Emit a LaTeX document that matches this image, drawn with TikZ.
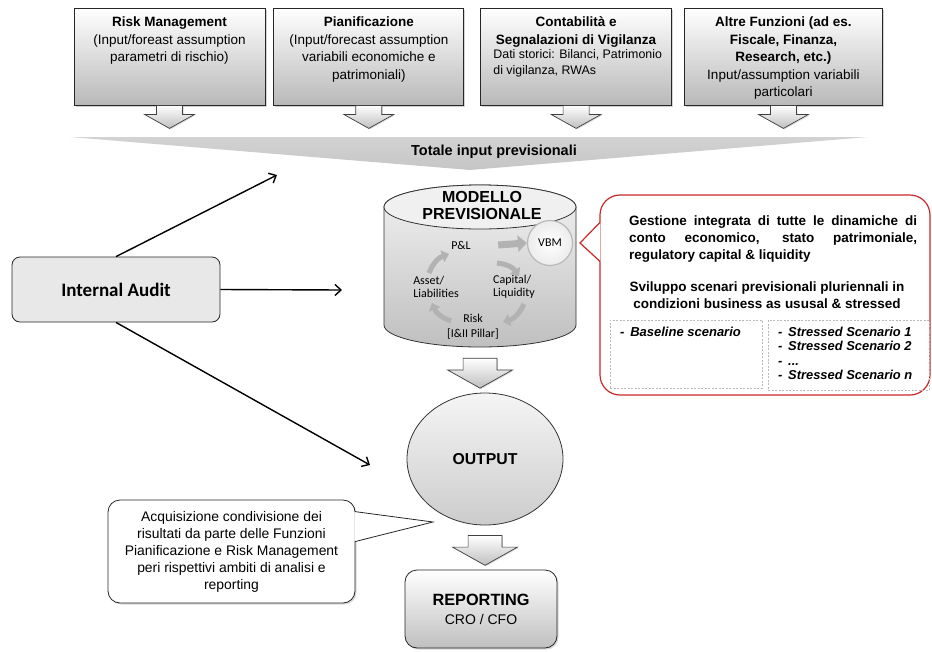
\documentclass[tikz,border=0pt]{standalone}
\usepackage{fontspec}
\setmainfont{Liberation Sans}
\newfontfamily\calibri{Carlito}
\usepackage{tikz}
\usetikzlibrary{shapes.geometric, arrows.meta, positioning, calc, shadows}

\newcommand\setfs[2]{\fontsize{#1}{#2}\selectfont}
\definecolor{bubblered}{RGB}{200,40,40}

\begin{document}
\begin{tikzpicture}[
    x=1pt, y=1pt,
    topbox/.style={rectangle, draw=black!85, line width=0.8pt, top color=white, bottom color=gray!55, minimum width=#1, minimum height=97pt, drop shadow={shadow xshift=1.5pt, shadow yshift=-1.5pt, opacity=0.35}},
    toptext/.style={inner sep=0pt, align=center, font=\setfs{13.5}{17.5}},
    arrow/.style={-{Straight Barb[length=6pt,width=11pt]}, line width=1.4pt},
    cyclearrow/.style={-{Triangle[length=7pt,width=12pt]}, line width=5pt, gray!60},
    dashbox/.style={rectangle, draw=gray!55, dash pattern=on 2pt off 1.5pt, line width=0.8pt},
    pics/blockdown/.style={code={
        \path[draw=black!75, line width=0.7pt, top color=white, bottom color=gray!50, drop shadow={shadow xshift=1pt, shadow yshift=-1pt, opacity=0.3}]
            (-13,0) -- (13,0) -- (13,-9) -- (25,-9) -- (0,-23) -- (-25,-9) -- (-13,-9) -- cycle;
    }},
]
    \useasboundingbox (0,0) rectangle (932,-651);

    % input functions
    \node[topbox=191pt] (riskmgmt) at (169.5,-56.5) {};
    \node[topbox=190pt, right=8pt of riskmgmt] (pianif) {};
    \node[topbox=191pt, right=16pt of pianif] (contab) {};
    \node[topbox=198pt, right=12pt of contab] (altre) {};

    \node[toptext, below=9pt of riskmgmt.north] (risktxt) {\textbf{Risk Management}\\(Input/foreast assumption\\parametri di rischio)};
    \node[toptext, below=9pt of pianif.north] (pianiftxt) {\textbf{Pianificazione}\\(Input/forecast assumption\\variabili economiche e\\patrimoniali)};
    \node[toptext, below=9pt of contab.north] (contabtxt) {\textbf{Contabilità e}\\\textbf{Segnalazioni di Vigilanza}};
    \node[inner sep=0pt, align=left, anchor=north west, font=\setfs{12.4}{16}] (contabdati) at ($(contab.north west)+(13,-42)$) {Dati storici: Bilanci, Patrimonio\\di vigilanza, RWAs};
    \node[toptext, below=9pt of altre.north] (altretxt) {\textbf{Altre Funzioni (ad es.}\\\textbf{Fiscale, Finanza,}\\\textbf{Research, etc.)}\\Input/assumption variabili\\particolari};

    \pic at (riskmgmt.south) {blockdown};
    \pic at (pianif.south) {blockdown};
    \pic at (contab.south) {blockdown};
    \pic at (altre.south) {blockdown};

    % totale input
    \shade[top color=gray!35, bottom color=gray!45] (70,-137) -- (868,-137) -- (470,-170) -- cycle;
    \node[font=\bfseries\setfs{14.5}{17}] (totale) at (494,-152) {Totale input previsionali};

    % modello previsionale
    \shade[top color=gray!10, bottom color=gray!50, draw=black!80, line width=0.8pt]
        (384,-207) -- (384,-325) arc[start angle=180, end angle=360, x radius=96, y radius=22]
        -- (576,-207) arc[start angle=0, end angle=180, x radius=96, y radius=22] -- cycle;
    \draw[black!80, line width=0.8pt, fill=gray!12] (480,-207) ellipse [x radius=96, y radius=22];
    \node[minimum width=192pt, minimum height=162pt] (model) at (480,-266) {};
    \node[font=\bfseries\setfs{16}{17}, align=center] (modeltxt) at (482,-205) {MODELLO\\PREVISIONALE};

    \node[circle, minimum size=45pt, draw=gray!55, line width=1.2pt, inner color=white, outer color=gray!15, font=\calibri\setfs{12}{14}] (vbm) at (550,-243) {VBM};
    \node[font=\calibri\setfs{12}{14}] (pl) at (461,-245) {P\&L};
    \node[font=\calibri\setfs{12}{13.5}, align=left] (asset) at (436,-287) {Asset/\\Liabilities};
    \node[font=\calibri\setfs{12}{13.5}, align=left] (capital) at (514,-287) {Capital/\\Liquidity};
    \node[font=\calibri\setfs{12}{15}, align=center] (riskpillar) at (473,-327) {Risk\\{}[I\&II Pillar]};

    \draw[-{Triangle[length=9pt,width=16pt]}, line width=7pt, gray!60] ($(pl.east)+(24,0)$) -- (vbm.west);
    \draw[cyclearrow] (429,-273) to[bend left=25] (449,-254);
    \draw[cyclearrow] (497,-263) to[bend left=25] (519,-276);
    \draw[cyclearrow] (524,-304) to[bend left=25] (503,-322);
    \draw[cyclearrow] (451,-321) to[bend left=25] (432,-303);

    % gestione integrata
    \node[rectangle, rounded corners=20pt, draw=bubblered, line width=1.2pt, fill=white, minimum width=330pt, minimum height=200pt] (gestione) at (765,-295) {};
    \coordinate (gesttip) at (580,-243);
    \fill[white] ($(gestione.north west)+(1,-28)$) -- (gesttip) -- ($(gestione.north west)+(1,-67)$) -- cycle;
    \draw[bubblered, line width=1.2pt] ($(gestione.north west)+(0.6,-28)$) -- (gesttip) -- ($(gestione.north west)+(0.6,-67)$);

    \node[inner sep=0pt, anchor=north west, text width=288pt, align=justify, font=\bfseries\setfs{13.5}{17}] (gestxt) at (629,-216) {Gestione integrata di tutte le dinamiche di\linebreak conto economico, stato patrimoniale,\linebreak regulatory capital \& liquidity};
    \node[align=center, font=\bfseries\setfs{13.5}{16.5}] (sviluppo) at (767,-295) {Sviluppo scenari previsionali pluriennali in\\condizioni business as ususal \& stressed};

    \node[dashbox, minimum width=152pt, minimum height=68pt] (baseline) at (686,-354) {};
    \node[dashbox, minimum width=161pt, minimum height=70pt] (stressed) at (848.5,-355) {};
    \node[inner sep=0pt, anchor=north west, font=\bfseries\itshape\setfs{13}{14.5}] (baselinetxt) at (620,-327) {-\, Baseline scenario};
    \node[inner sep=0pt, anchor=north west, align=left, font=\bfseries\itshape\setfs{12.9}{14.4}] (stressedtxt) at (778,-327) {-\, Stressed Scenario 1\\-\, Stressed Scenario 2\\-\, ...\\-\, Stressed Scenario n};

    % internal audit
    \node[rectangle, rounded corners=8pt, draw=black!85, line width=0.8pt, fill=gray!18, minimum width=208pt, minimum height=65pt, font=\calibri\bfseries\setfs{19}{22}] (audit) at (116,-289.5) {Internal Audit};
    \coordinate (auditin) at (277,-175);
    \coordinate (auditmodel) at (342,-290);
    \coordinate (auditout) at (370,-465);
    \draw[arrow] (audit.north) -- (auditin);
    \draw[arrow] (audit.east) -- (auditmodel);
    \draw[arrow] (audit.south) -- (auditout);

    % output e reporting
    \pic[scale=1.3] at ([yshift=-11pt]model.south) {blockdown};
    \node[ellipse, minimum width=156pt, minimum height=132pt, draw=black!80, line width=0.8pt, top color=gray!8, bottom color=gray!40, font=\bfseries\setfs{15.8}{18}] (output) at (485,-459) {OUTPUT};
    \pic[scale=1.3] at ([yshift=-10pt]output.south) {blockdown};
    \node[rectangle, rounded corners=12pt, draw=black!85, line width=0.8pt, top color=white, bottom color=gray!50, minimum width=152pt, minimum height=78pt, align=center, font=\setfs{14}{19}, drop shadow={shadow xshift=1.5pt, shadow yshift=-1.5pt, opacity=0.3}] (reporting) at (481,-609) {{\bfseries\setfs{16.3}{19}REPORTING}\\CRO / CFO};

    \node[rectangle, rounded corners=12pt, draw=black!85, line width=0.8pt, fill=white, minimum width=247pt, minimum height=103pt, align=center, font=\setfs{13.9}{17}, drop shadow={shadow xshift=1.5pt, shadow yshift=-1.5pt, opacity=0.3}] (acquis) at (231.5,-551.5) {Acquisizione condivisione dei\\risultati da parte delle Funzioni\\Pianificazione e Risk Management\\peri rispettivi ambiti di analisi e\\reporting};
    \coordinate (acqtip) at (433,-522);
    \fill[white] ($(acquis.north east)+(-1,-12)$) -- (acqtip) -- ($(acquis.north east)+(-1,-42)$) -- cycle;
    \draw[black!85, line width=0.8pt] ($(acquis.north east)+(-0.4,-12)$) -- (acqtip) -- ($(acquis.north east)+(-0.4,-42)$);
\end{tikzpicture}
\end{document}
